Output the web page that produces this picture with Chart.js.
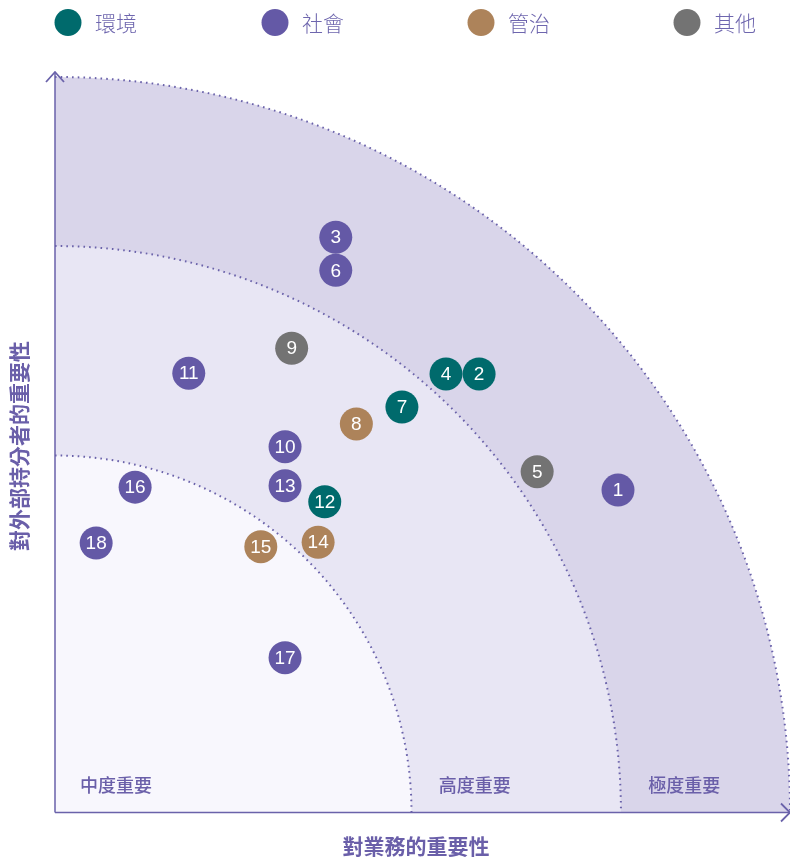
<!DOCTYPE html>
<html>
<head>
<meta charset="utf-8">
<script src="https://cdn.jsdelivr.net/npm/chart.js@4.4.1/dist/chart.umd.min.js"></script>
<style>
html,body{margin:0;padding:0;background:#ffffff;}
#wrap{position:relative;width:790px;height:859px;}
</style>
</head>
<body>
<div id="wrap"><canvas id="c" width="790" height="859"></canvas></div>
<script>
// ---- data ----
const categories = ['環境', '社會', '管治', '其他'];
const categoryColors = ['#006a6c', '#6459a6', '#ad835a', '#737373'];
const topicIds   = [1, 2, 3, 4, 5, 6, 7, 8, 9, 10, 11, 12, 13, 14, 15, 16, 17, 18];
const topicCat   = [1, 0, 1, 0, 3, 1, 0, 2, 3, 1, 1, 0, 1, 2, 2, 1, 1, 1];
const businessImportance    = [76.6, 57.7, 38.2, 53.2, 65.6, 38.2, 47.2, 41.0, 32.2, 31.3, 18.2, 36.7, 31.3, 35.8, 28.0, 10.9, 31.3, 5.6];
const stakeholderImportance = [43.8, 59.6, 78.2, 59.6, 46.3, 73.7, 55.1, 52.8, 63.1, 49.7, 59.7, 42.2, 44.4, 36.7, 36.1, 44.2, 21.0, 36.6];
const bandRadii  = [100, 77, 48.5];
const bandLabels = ['中度重要', '高度重要', '極度重要'];
const bandLabelX = [3.4, 52.2, 80.7];
const xTitle = '對業務的重要性';
const yTitle = '對外部持分者的重要性';

const datasets = categories.map((name, ci) => {
  const pts = [];
  topicIds.forEach((id, i) => {
    if (topicCat[i] === ci) pts.push({x: businessImportance[i], y: stakeholderImportance[i], id: id});
  });
  return {
    label: name,
    data: pts,
    backgroundColor: categoryColors[ci],
    borderColor: categoryColors[ci],
    pointRadius: 16.5,
    pointHoverRadius: 16.5,
    borderWidth: 0
  };
});

const AXIS = '#6a62aa';
const TEXT = '#6a5fa9';
const FILLS = ['#d9d5ea', '#e8e6f4', '#f8f7fd'];
const CJK = '"Noto Sans CJK TC", "Noto Sans CJK SC", sans-serif';

const matrixPlugin = {
  id: 'matrix',
  beforeDatasetsDraw(chart) {
    const ctx = chart.ctx;
    const xs = chart.scales.x, ys = chart.scales.y;
    const ox = xs.getPixelForValue(0), oy = ys.getPixelForValue(0);
    ctx.save();
    bandRadii.forEach((r, i) => {
      const rp = xs.getPixelForValue(r) - ox;
      ctx.beginPath();
      ctx.moveTo(ox, oy);
      ctx.arc(ox, oy, rp, -Math.PI / 2, 0);
      ctx.closePath();
      ctx.fillStyle = FILLS[i];
      ctx.fill();
    });
    ctx.strokeStyle = AXIS;
    ctx.lineWidth = 2;
    ctx.setLineDash([1.6, 4.1]);
    bandRadii.forEach((r) => {
      const rp = xs.getPixelForValue(r) - ox;
      ctx.beginPath();
      ctx.arc(ox, oy, rp, -Math.PI / 2, 0);
      ctx.stroke();
    });
    ctx.setLineDash([]);
    // band labels
    ctx.fillStyle = TEXT;
    ctx.font = '500 18px ' + CJK;
    ctx.textBaseline = 'middle';
    ctx.textAlign = 'left';
    bandLabels.forEach((t, i) => {
      ctx.fillText(t, xs.getPixelForValue(bandLabelX[i]), ys.getPixelForValue(3.7));
    });
    // axes
    ctx.strokeStyle = AXIS;
    ctx.lineWidth = 1.5;
    ctx.beginPath();
    ctx.moveTo(ox, oy + 0.5);
    ctx.lineTo(790, oy + 0.5);
    ctx.moveTo(ox, oy + 0.5);
    ctx.lineTo(ox, 72);
    ctx.stroke();
    ctx.lineWidth = 1.8;
    ctx.beginPath();
    ctx.moveTo(46, 82); ctx.lineTo(ox, 72); ctx.lineTo(64, 82);
    ctx.moveTo(781, 803.5); ctx.lineTo(790, 812.5); ctx.lineTo(781, 821.5);
    ctx.stroke();
    // axis titles
    ctx.font = 'bold 21px ' + CJK;
    ctx.textAlign = 'center';
    ctx.fillText(xTitle, 416, 846);
    ctx.save();
    ctx.translate(19, 446);
    ctx.rotate(-Math.PI / 2);
    ctx.fillText(yTitle, 0, 0);
    ctx.restore();
    ctx.restore();
  },
  afterDatasetsDraw(chart) {
    const ctx = chart.ctx;
    ctx.save();
    ctx.fillStyle = '#ffffff';
    ctx.font = '19px "Liberation Sans", Arial, sans-serif';
    ctx.textAlign = 'center';
    ctx.textBaseline = 'middle';
    chart.data.datasets.forEach((ds, di) => {
      const meta = chart.getDatasetMeta(di);
      meta.data.forEach((el, i) => {
        ctx.fillText(String(ds.data[i].id), el.x, el.y + 1);
      });
    });
    // legend
    const legendX = [68, 275, 481, 687];
    ctx.font = '300 21px ' + CJK;
    ctx.textAlign = 'left';
    chart.data.datasets.forEach((ds, di) => {
      ctx.beginPath();
      ctx.arc(legendX[di], 22.5, 13.5, 0, Math.PI * 2);
      ctx.fillStyle = ds.backgroundColor;
      ctx.fill();
      ctx.fillStyle = '#6e66ae';
      ctx.fillText(ds.label, legendX[di] + 27, 23.5);
    });
    ctx.restore();
  }
};

new Chart(document.getElementById('c'), {
  type: 'scatter',
  data: { datasets: datasets },
  options: {
    responsive: false,
    animation: false,
    events: [],
    layout: { autoPadding: false, padding: { left: 55, right: 0, top: 77, bottom: 47 } },
    plugins: { legend: { display: false }, tooltip: { enabled: false } },
    scales: {
      x: { type: 'linear', min: 0, max: 100, display: false },
      y: { type: 'linear', min: 0, max: 100, display: false }
    },
    elements: { point: { borderWidth: 0 } },
    clip: false
  },
  plugins: [matrixPlugin]
});
</script>
</body>
</html>
